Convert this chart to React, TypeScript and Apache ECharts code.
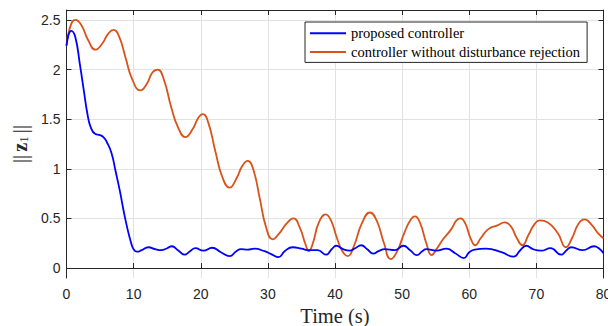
import React, { useEffect, useRef } from "react";
import * as echarts from "echarts";

const xTicks = [0, 10, 20, 30, 40, 50, 60, 70, 80];
const yTicks = [0, 0.5, 1, 1.5, 2, 2.5];
const seriesNames = ["proposed controller", "controller without disturbance rejection"];

const proposedT = [0, 0.7, 1.3, 2.0, 2.6, 3.1, 3.6, 4.3, 5.0, 5.5, 6.0, 6.7, 7.3, 8.0, 8.5, 9.0, 9.6, 10.0, 10.5, 11.2, 12.2, 13.2, 14.1, 15.0, 15.7, 16.6, 17.6, 18.4, 19.2, 20.4, 21.7, 23.0, 24.3, 25.3, 26.0, 27.0, 28.0, 29.5, 30.5, 31.6, 32.5, 33.7, 35.0, 36.2, 37.4, 38.7, 39.5, 40.2, 41.2, 42.2, 43.0, 43.9, 44.8, 45.7, 46.5, 47.4, 48.9, 50.2, 51.2, 52.2, 53.0, 53.6, 55.1, 56.6, 57.9, 59.2, 60.0, 60.8, 62.5, 64.8, 66.6, 67.6, 68.5, 69.5, 70.7, 72.1, 73.7, 74.5, 75.2, 76.9, 78.6, 79.3, 80];
const proposedV = [2.24, 2.39, 2.33, 2.05, 1.78, 1.56, 1.42, 1.35, 1.34, 1.32, 1.27, 1.16, 0.98, 0.76, 0.58, 0.42, 0.26, 0.19, 0.165, 0.18, 0.21, 0.19, 0.18, 0.2, 0.22, 0.18, 0.135, 0.17, 0.2, 0.175, 0.205, 0.16, 0.12, 0.17, 0.19, 0.185, 0.195, 0.17, 0.14, 0.11, 0.17, 0.21, 0.195, 0.18, 0.18, 0.135, 0.19, 0.225, 0.19, 0.175, 0.2, 0.23, 0.19, 0.145, 0.17, 0.19, 0.18, 0.225, 0.18, 0.13, 0.17, 0.19, 0.175, 0.195, 0.15, 0.1, 0.16, 0.185, 0.195, 0.16, 0.115, 0.18, 0.225, 0.19, 0.175, 0.2, 0.135, 0.18, 0.21, 0.18, 0.22, 0.2, 0.15];

const withoutT = [0, 0.5, 1.3, 2.2, 3.2, 4.3, 5.3, 6.2, 7.0, 7.8, 8.8, 9.8, 11.0, 12.0, 12.8, 13.6, 14.5, 15.6, 16.6, 17.7, 18.8, 19.6, 20.3, 21.1, 22.2, 23.2, 24.3, 25.3, 26.2, 27.0, 27.8, 28.8, 29.7, 30.7, 31.7, 32.8, 33.8, 34.8, 35.6, 36.1, 36.7, 37.6, 38.6, 39.4, 40.3, 41.1, 41.9, 42.8, 44.0, 45.2, 46.2, 47.3, 48.3, 49.2, 50.3, 51.2, 51.9, 52.7, 53.6, 54.4, 55.2, 56.1, 57.3, 58.1, 58.7, 59.4, 60.2, 60.9, 61.7, 62.8, 64.2, 65.3, 66.2, 67.1, 67.9, 68.8, 69.7, 70.5, 71.7, 73.2, 74.4, 75.3, 76.3, 77.2, 78.3, 79.2, 80];
const withoutV = [2.24, 2.42, 2.5, 2.45, 2.3, 2.2, 2.26, 2.36, 2.4, 2.34, 2.12, 1.9, 1.79, 1.86, 1.97, 2.0, 1.9, 1.62, 1.42, 1.32, 1.4, 1.51, 1.55, 1.47, 1.17, 0.92, 0.81, 0.9, 1.03, 1.08, 1.0, 0.7, 0.42, 0.29, 0.35, 0.45, 0.5, 0.4, 0.24, 0.17, 0.25, 0.46, 0.54, 0.48, 0.3, 0.17, 0.12, 0.22, 0.45, 0.56, 0.48, 0.25, 0.09, 0.16, 0.35, 0.48, 0.52, 0.45, 0.25, 0.13, 0.2, 0.29, 0.39, 0.48, 0.5, 0.45, 0.3, 0.23, 0.3, 0.39, 0.43, 0.46, 0.42, 0.3, 0.23, 0.33, 0.44, 0.48, 0.46, 0.35, 0.21, 0.3, 0.45, 0.49, 0.43, 0.35, 0.3];

const AX = "#262626";
const GRID = "#e2e2e2";

export default function App() {
  const ref = useRef<HTMLDivElement>(null);
  useEffect(() => {
    if (!ref.current) return;
    const chart = echarts.init(ref.current, undefined, { renderer: "svg" });
    const pair = (t: number[], v: number[]) => t.map((x, i) => [x, v[i]]);
    const tickFont = { fontFamily: "Liberation Sans", fontSize: 14, color: AX };
    chart.setOption({
      animation: false,
      backgroundColor: "#fff",
      grid: { left: 66.5, right: 4.5, top: 10, bottom: 48, containLabel: false, outerBoundsMode: "none" },
      legend: {
        data: seriesNames,
        orient: "vertical",
        left: 305,
        top: 22,
        padding: [2, 7, 1, 5],
        itemGap: 0,
        itemWidth: 36,
        itemHeight: 2,
        icon: "rect",
        backgroundColor: "#fff",
        borderColor: AX,
        borderWidth: 1,
        borderRadius: 0,
        textStyle: { fontFamily: "Liberation Serif", fontSize: 14.5, color: "#000", lineHeight: 18.7 },
      },
      xAxis: [
        {
          type: "value",
          min: xTicks[0],
          max: xTicks[xTicks.length - 1],
          interval: 10,
          name: "Time (s)",
          nameLocation: "middle",
          nameGap: 27,
          nameTextStyle: { fontFamily: "Liberation Serif", fontSize: 20.5, color: AX },
          axisLine: { show: true, lineStyle: { color: AX, width: 1 } },
          axisTick: { show: true, inside: true, length: 5, lineStyle: { color: AX } },
          axisLabel: { ...tickFont, margin: 9 },
          splitLine: { show: true, lineStyle: { color: GRID, width: 1 } },
        },
        {
          type: "value",
          position: "top",
          min: xTicks[0],
          max: xTicks[xTicks.length - 1],
          interval: 10,
          axisLine: { show: true, onZero: false, lineStyle: { color: AX, width: 1 } },
          axisTick: { show: true, inside: true, length: 5, lineStyle: { color: AX } },
          axisLabel: { show: false },
          splitLine: { show: false },
        },
      ],
      yAxis: [
        {
          type: "value",
          min: -0.1,
          max: 2.6,
          name: "{n|||}{b|z}{s|1}{n|||}",
          nameLocation: "middle",
          nameRotate: 90,
          nameGap: 32,
          nameTextStyle: {
            color: AX,
            rich: {
              n: { fontFamily: "Liberation Serif", fontSize: 21, color: AX, padding: [0, 1, 0, 1] },
              b: { fontFamily: "Liberation Serif", fontWeight: "bold", fontSize: 20, color: AX, padding: [0, 0, 0, 2] },
              s: { fontFamily: "Liberation Serif", fontSize: 13, color: AX, padding: [8, 2, 0, 0] },
            },
          },
          axisLine: { show: true, onZero: false, lineStyle: { color: AX, width: 1 } },
          axisTick: { show: true, inside: true, length: 5, customValues: yTicks, lineStyle: { color: AX } },
          axisLabel: { ...tickFont, margin: 6, customValues: yTicks },
          splitLine: { show: true, lineStyle: { color: GRID, width: 1 } },
        },
        {
          type: "value",
          position: "right",
          min: -0.1,
          max: 2.6,
          axisLine: { show: true, onZero: false, lineStyle: { color: AX, width: 1 } },
          axisTick: { show: true, inside: true, length: 5, customValues: yTicks, lineStyle: { color: AX } },
          axisLabel: { show: false, customValues: yTicks },
          splitLine: { show: false },
        },
      ],
      series: [
        {
          name: seriesNames[0],
          type: "line",
          data: pair(proposedT, proposedV),
          smooth: 0.5,
          showSymbol: false,
          symbol: "none",
          z: 3,
          lineStyle: { color: "#0000ff", width: 1.8 },
          itemStyle: { color: "#0000ff" },
        },
        {
          name: seriesNames[1],
          type: "line",
          data: pair(withoutT, withoutV),
          smooth: 0.5,
          showSymbol: false,
          symbol: "none",
          z: 2,
          lineStyle: { color: "#D95319", width: 1.8 },
          itemStyle: { color: "#D95319" },
        },
      ],
    });
    return () => chart.dispose();
  }, []);
  return (
    <div
      ref={ref}
      style={{ position: "absolute", left: 0, top: 0, width: 608, height: 326 }}
    />
  );
}
